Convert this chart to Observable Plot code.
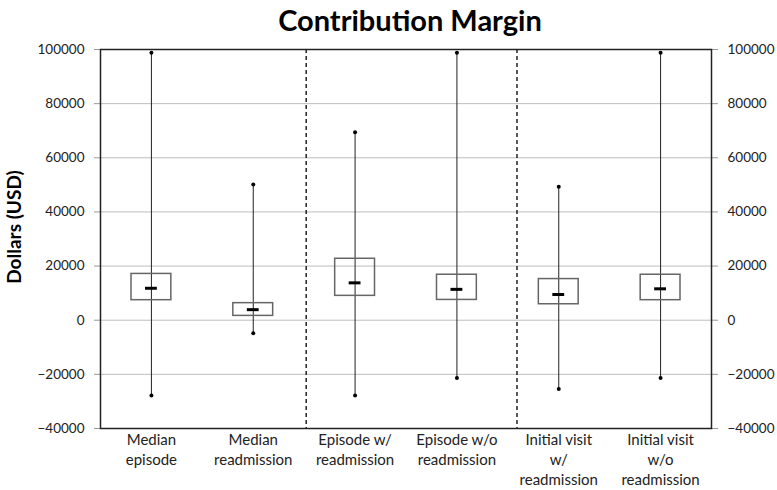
<!DOCTYPE html>
<html>
<head>
<meta charset="utf-8">
<script src="https://cdn.jsdelivr.net/npm/d3@7"></script>
<script src="https://cdn.jsdelivr.net/npm/@observablehq/plot@0.6"></script>
<style>
  html, body { margin: 0; padding: 0; background: #fff; }
  #title {
    width: 777px; height: 40px; box-sizing: border-box; padding-left: 43px;
    text-align: center; font-family: Lato, sans-serif; font-weight: bold;
    font-size: 29px; line-height: 40px; color: #000;
  }
</style>
</head>
<body>
<div id="title">Contribution Margin</div>
<div id="chart"></div>
<script>
const categories = [
  "Median\nepisode",
  "Median\nreadmission",
  "Episode w/\nreadmission",
  "Episode w/o\nreadmission",
  "Initial visit\nw/\nreadmission",
  "Initial visit\nw/o\nreadmission"
];
const minValues    = [-27800, -4800, -27800, -21300, -25400, -21300];
const q1Values     = [7400, 1600, 9000, 7500, 5900, 7400];
const medianValues = [11800, 3900, 13800, 11400, 9500, 11600];
const q3Values     = [17100, 6300, 22700, 16800, 15200, 16800];
const maxValues    = [98800, 50100, 69400, 98800, 49300, 98800];
const groupSeparators = [2.02, 4.09];
const yTicks = [-40000, -20000, 0, 20000, 40000, 60000, 80000, 100000];
const yLabel = "Dollars (USD)";

const data = categories.map((c, i) => ({
  c, i, min: minValues[i], q1: q1Values[i], median: medianValues[i], q3: q3Values[i], max: maxValues[i]
}));

const chart = Plot.plot({
  width: 777,
  height: 450,
  marginTop: 9,
  marginBottom: 62,
  marginLeft: 100,
  marginRight: 66,
  x: {domain: [0, 6], axis: null},
  y: {domain: [-40000, 100000], axis: null},
  style: {fontFamily: "Lato, sans-serif", fontSize: "14px", color: "#222", background: "#fff"},
  marks: [
    Plot.gridY(yTicks, {stroke: "#bdbdbd", strokeOpacity: 1}),
    Plot.axisY(yTicks, {anchor: "left", tickSize: 6, tickPadding: 10, tickFormat: d3.format("d"), label: null, stroke: "#999", fontSize: 13.5}),
    Plot.axisY(yTicks, {anchor: "right", tickSize: 6, tickPadding: 10, tickFormat: d3.format("d"), label: null, stroke: "#999", fontSize: 13.5}),
    Plot.axisX(data.map(d => d.i + 0.5), {
      anchor: "bottom", tickSize: 0, tickPadding: 2, label: null, lineHeight: 1.35, fontSize: 15,
      tickFormat: d => categories[Math.floor(d)]
    }),
    Plot.text([yLabel], {frameAnchor: "left", textAnchor: "middle", rotate: -90, dx: -86, dy: -12, fontWeight: "bold", fontSize: 19, fill: "#000"}),
    Plot.ruleX(groupSeparators, {stroke: "#222", strokeWidth: 1.5, strokeDasharray: "4,3"}),
    Plot.ruleX(data, {x: d => d.i + 0.5, y1: "min", y2: "max", stroke: "#222", strokeWidth: 1}),
    Plot.rect(data, {x1: "i", x2: d => d.i + 1, y1: "q1", y2: "q3", insetLeft: 31, insetRight: 31, fill: "none", stroke: "#666", strokeWidth: 1.5}),
    Plot.ruleY(data, {x1: "i", x2: d => d.i + 1, y: "median", insetLeft: 45, insetRight: 45, stroke: "#000", strokeWidth: 3}),
    Plot.dot(data, {x: d => d.i + 0.5, y: "min", r: 2, fill: "#000", stroke: "none"}),
    Plot.dot(data, {x: d => d.i + 0.5, y: "max", r: 2, fill: "#000", stroke: "none"}),
    Plot.frame({stroke: "#222", strokeWidth: 1.5})
  ]
});
document.getElementById("chart").appendChild(chart);
</script>
</body>
</html>
